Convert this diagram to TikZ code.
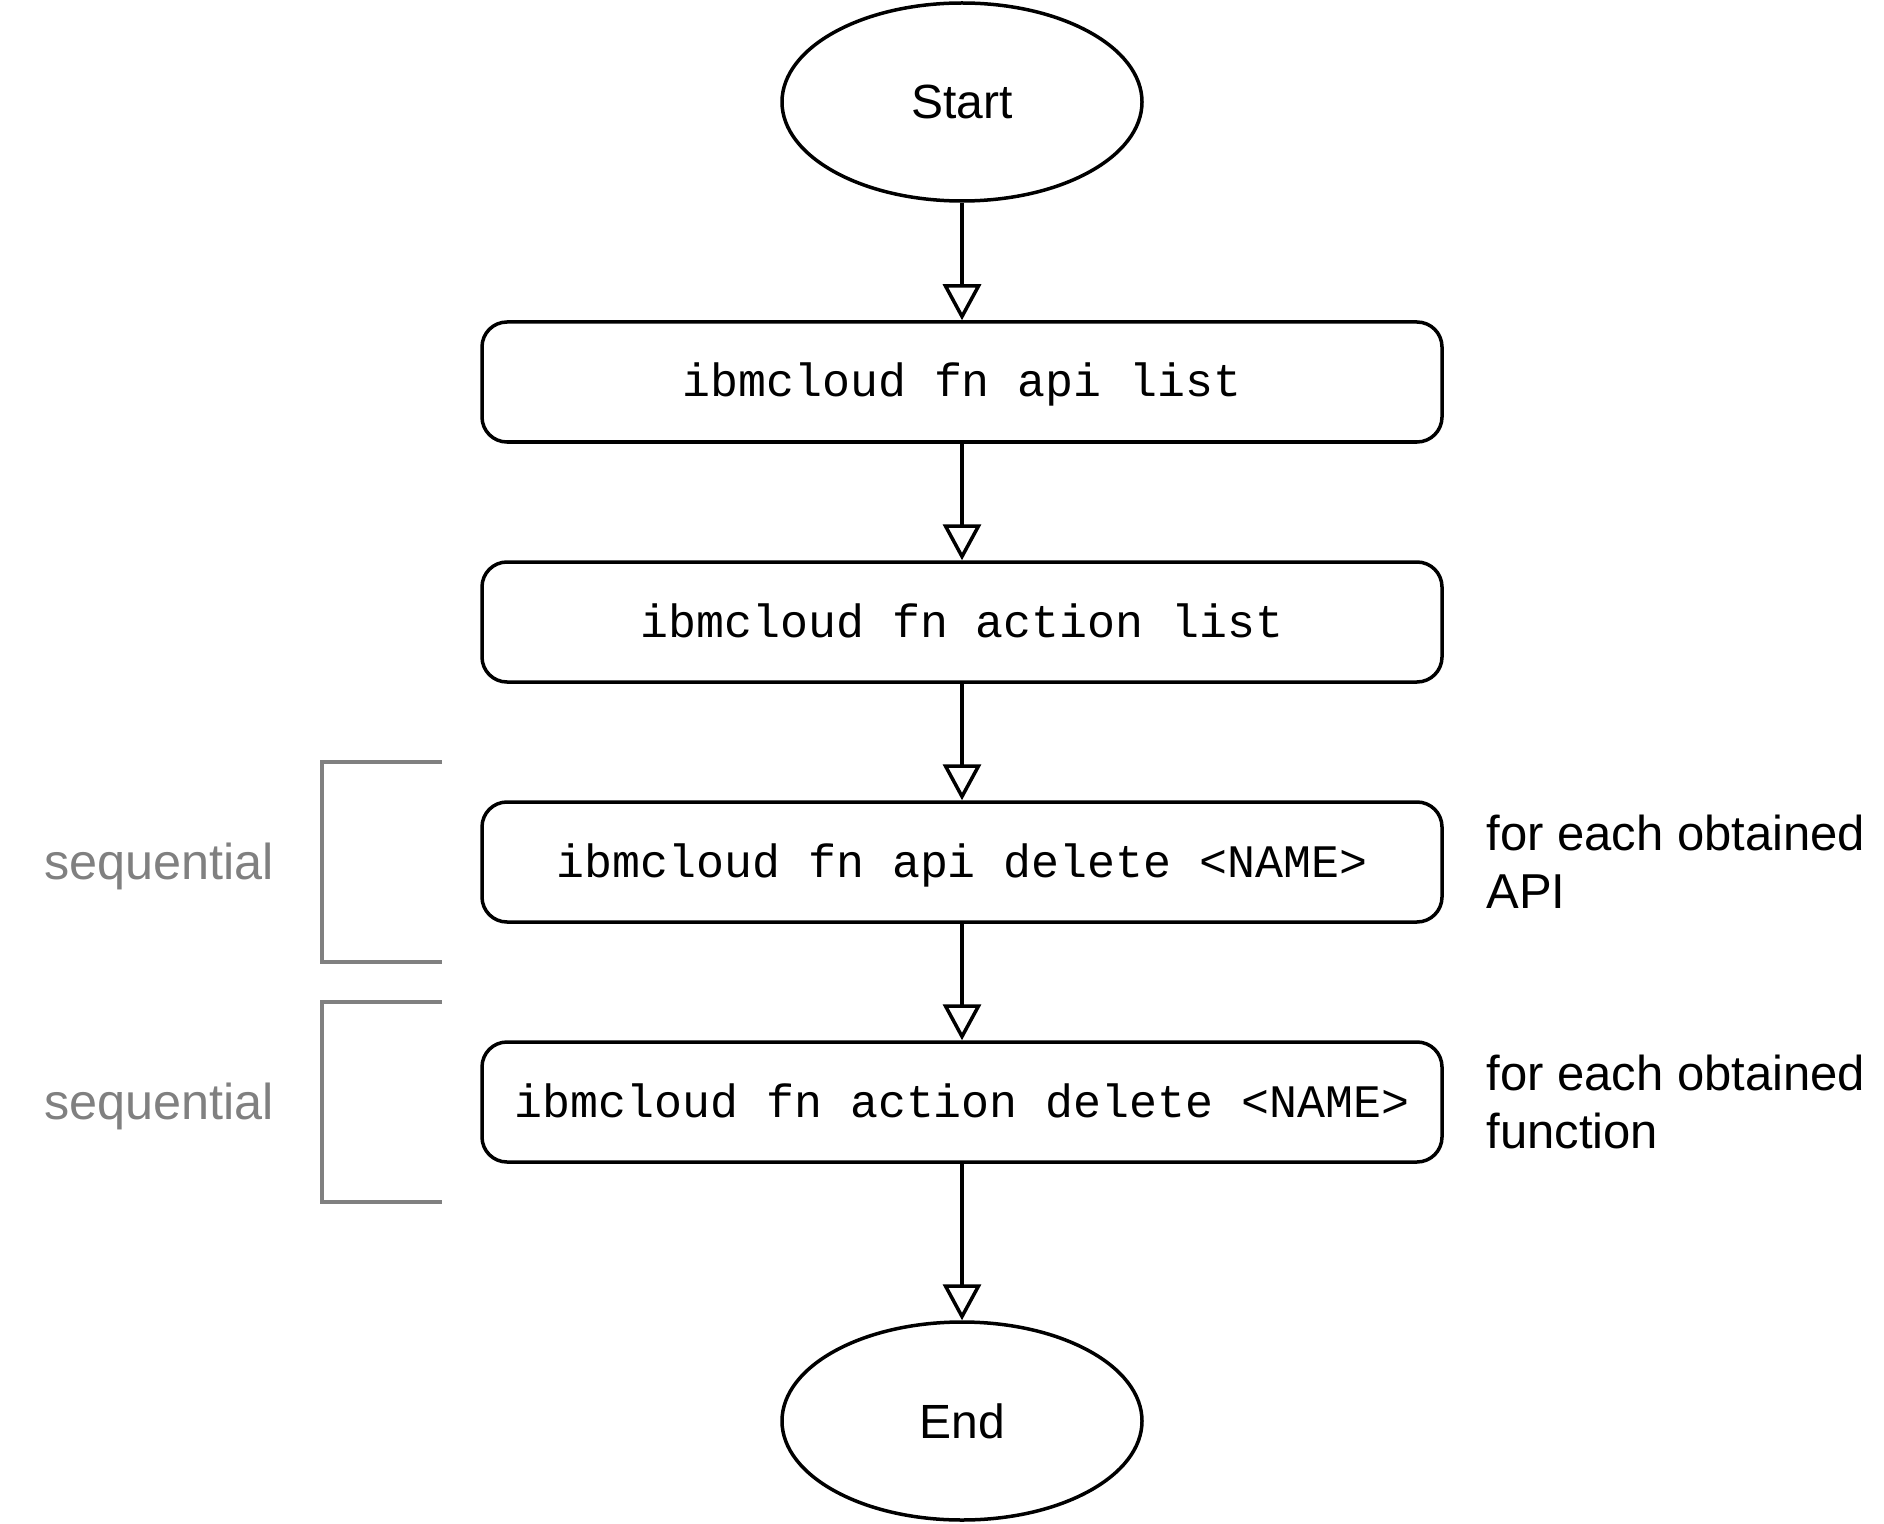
\documentclass[tikz,border=0pt]{standalone}
\usepackage{fontspec}
\setmainfont{Liberation Sans}
\setmonofont{Liberation Mono}
\usetikzlibrary{arrows.meta,shapes.geometric}
\definecolor{seqgray}{HTML}{808080}
\begin{document}
\begin{tikzpicture}[x=0.5pt,y=-0.5pt,
  term/.style={ellipse, draw, line width=1.75pt, minimum width=180pt, minimum height=99pt, inner sep=0pt, font=\fontsize{24}{29}\selectfont},
  cmd/.style={rectangle, rounded corners=12.5pt, draw, line width=1.75pt, minimum width=480pt, minimum height=60pt, inner sep=0pt, text height=15pt, text depth=0pt, font=\ttfamily\fontsize{23.3}{28}\selectfont},
  flow/.style={line width=1.75pt, -{Triangle[open, length=18pt, width=19pt]}},
  bracketline/.style={draw=seqgray, line width=1.65pt},
  side/.style={font=\fontsize{24.5}{29}\selectfont, align=left, anchor=west, inner sep=0pt},
  seqlabel/.style={font=\fontsize{25.2}{30}\selectfont, text=seqgray, inner sep=0pt}]
\useasboundingbox (0,0) rectangle (1884,1524);

\node[term] (start) at (962,102) {Start};
\node[cmd] (b1) at (962,382) {ibmcloud fn api list};
\node[cmd] (b2) at (962,622) {ibmcloud fn action list};
\node[cmd] (b3) at (962,862) {ibmcloud fn api delete <NAME>};
\node[cmd] (b4) at (962,1102) {ibmcloud fn action delete <NAME>};
\node[term] (end) at (962,1421) {End};

\draw[flow] (start) -- (b1);
\draw[flow] (b1) -- (b2);
\draw[flow] (b2) -- (b3);
\draw[flow] (b3) -- (b4);
\draw[flow] (b4) -- (end);

\draw[bracketline] (442,762) -- (322,762) -- (322,962) -- (442,962);
\draw[bracketline] (442,1002) -- (322,1002) -- (322,1202) -- (442,1202);

\node[seqlabel] (seq1) at (159,866) {sequential};
\node[seqlabel] (seq2) at (159,1106) {sequential};

\node[side] (note1) at (1486,862) {for each obtained\\API};
\node[side] (note2) at (1486,1102) {for each obtained\\function};
\end{tikzpicture}
\end{document}
